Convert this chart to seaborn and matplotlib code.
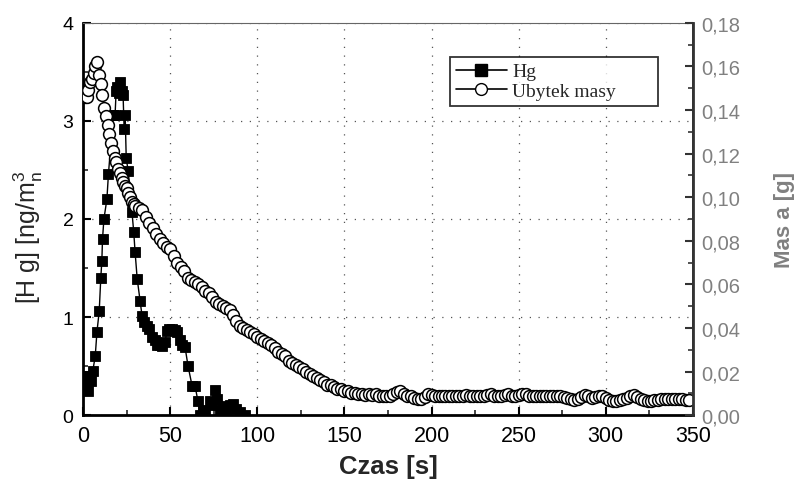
import matplotlib
matplotlib.use("Agg")
import matplotlib.pyplot as plt
import seaborn as sns
import pandas as pd
from matplotlib.ticker import MultipleLocator, FuncFormatter
from matplotlib.lines import Line2D

# ---------------- data ----------------
hg_time = [0.5, 1.5, 2.5, 3.5, 4.5, 5.5, 6.9, 7.9, 9.2, 10.1, 10.7, 11.1, 11.9, 13.6, 14.5,
           17.2, 18.3, 18.9, 19.6, 20.6, 21.2, 22.0, 22.9, 23.5, 24.1, 24.7, 25.8,
           28.0, 29.0, 29.8, 31.0, 32.7, 33.8,
           35.0, 36.5, 38.0, 39.5, 41.0, 42.5, 44.0, 45.5, 47.0, 48.2,
           49.5, 51.0, 52.5, 54.0, 55.5, 56.8, 58.5,
           60.2, 62.5, 64.2, 65.9, 67.0, 68.5, 70.0,
           72.8, 74.0, 75.7, 76.8, 78.5, 80.3, 82.0, 84.0, 86.0, 88.0, 90.0, 92.9]
hg_conc = [0.40, 0.30, 0.25, 0.40, 0.35, 0.45, 0.60, 0.85, 1.06, 1.40, 1.57, 1.80, 2.00, 2.20, 2.46,
           3.06, 3.06, 3.30, 3.35, 3.28, 3.40, 3.30, 3.26, 2.92, 3.06, 2.62, 2.49,
           2.07, 1.87, 1.66, 1.39, 1.16, 1.01,
           0.95, 0.91, 0.88, 0.80, 0.77, 0.72, 0.72, 0.70, 0.75, 0.86,
           0.88, 0.88, 0.87, 0.85, 0.77, 0.72, 0.69,
           0.50, 0.30, 0.30, 0.14, 0.00, 0.05, 0.00,
           0.14, 0.10, 0.26, 0.16, 0.05, 0.09, 0.05, 0.10, 0.11, 0.06, 0.03, 0.00]

mass_time = list(range(1, 31)) + list(range(32, 349, 2))
mass_loss = [
    0.146, 0.146, 0.149, 0.153, 0.154, 0.157, 0.160, 0.162, 0.156, 0.152,
    0.147, 0.141, 0.137, 0.133, 0.129, 0.125, 0.121, 0.118, 0.116, 0.113,
    0.111, 0.109, 0.107, 0.105, 0.104, 0.102, 0.100, 0.098, 0.097, 0.096,
    # 32..348 step 2
    0.095, 0.094, 0.091, 0.088, 0.086, 0.083, 0.081, 0.079, 0.077, 0.076,
    0.073, 0.070, 0.068, 0.066, 0.063, 0.062, 0.061, 0.060, 0.059, 0.057,
    0.056, 0.054, 0.052, 0.051, 0.050, 0.049, 0.048, 0.046, 0.043, 0.041,
    0.040, 0.039, 0.038, 0.037, 0.036, 0.035, 0.034, 0.033, 0.032, 0.031,
    0.029, 0.028, 0.027, 0.025, 0.024, 0.023, 0.022, 0.021, 0.020, 0.019,
    0.018, 0.017, 0.016, 0.015, 0.014, 0.014, 0.013, 0.012, 0.012, 0.011,
    0.011, 0.010, 0.010, 0.0095, 0.0095, 0.0092, 0.0095, 0.0093, 0.0095, 0.0090,
    0.0088, 0.0086, 0.0088, 0.0095, 0.0105, 0.0110, 0.0098, 0.0088, 0.0086, 0.0078,
    0.0072, 0.0075, 0.0085, 0.0095, 0.0092, 0.0090, 0.0088, 0.0086, 0.0086, 0.0088,
    0.0086, 0.0088, 0.0086, 0.0090, 0.0092, 0.0090, 0.0088, 0.0086, 0.0088, 0.0090,
    0.0092, 0.0095, 0.0090, 0.0086, 0.0088, 0.0092, 0.0095, 0.0090, 0.0088, 0.0094,
    0.0098, 0.0095, 0.0090, 0.0088, 0.0086, 0.0088, 0.0090, 0.0090, 0.0088, 0.0088,
    0.0086, 0.0086, 0.0084, 0.0080, 0.0074, 0.0070, 0.0076, 0.0085, 0.0092, 0.0088,
    0.0080, 0.0085, 0.0090, 0.0088, 0.0080, 0.0070, 0.0064, 0.0066, 0.0070, 0.0075,
    0.0080, 0.0088, 0.0092, 0.0085, 0.0075, 0.0068, 0.0065, 0.0066, 0.0068, 0.0070,
    0.0072, 0.0074, 0.0076, 0.0075, 0.0072, 0.0074, 0.0072, 0.0070, 0.0068,
]

x_ticks = [0, 50, 100, 150, 200, 250, 300, 350]
y_left_ticks = [0, 1, 2, 3, 4]
y_right_ticks = [0.00, 0.02, 0.04, 0.06, 0.08, 0.10, 0.12, 0.14, 0.16, 0.18]

hg_df = pd.DataFrame({"Czas": hg_time, "Hg": hg_conc})
mass_df = pd.DataFrame({"Czas": mass_time, "Masa": mass_loss})

# ---------------- style ----------------
sns.set_theme(style="white")
plt.rcParams["font.family"] = ["Liberation Sans", "DejaVu Sans"]
plt.rcParams["mathtext.fontset"] = "custom"
plt.rcParams["mathtext.rm"] = "Liberation Sans"
plt.rcParams["mathtext.it"] = "Liberation Sans"

fig = plt.figure(figsize=(8, 4.85), dpi=100)
ax = fig.add_axes([0.104, 0.142, 0.762, 0.809])
ax2 = ax.twinx()

sns.lineplot(data=hg_df, x="Czas", y="Hg", ax=ax, estimator=None, sort=True,
             color="black", lw=1.0, marker="s", markersize=7.5,
             markerfacecolor="black", markeredgecolor="black", markeredgewidth=0.6)
sns.lineplot(data=mass_df, x="Czas", y="Masa", ax=ax2, estimator=None, sort=True,
             color="black", lw=1.0, marker="o", markersize=8.5,
             markerfacecolor="white", markeredgecolor="black", markeredgewidth=1.1)

ax.set_xlim(0, 350)
ax.set_ylim(0, 4)
ax2.set_ylim(0, 0.18)
ax.set_xticks(x_ticks)
ax.set_yticks(y_left_ticks)
ax2.set_yticks(y_right_ticks)
ax.xaxis.set_minor_locator(MultipleLocator(25))
ax.yaxis.set_minor_locator(MultipleLocator(0.5))
ax2.yaxis.set_minor_locator(MultipleLocator(0.01))
ax2.yaxis.set_major_formatter(FuncFormatter(lambda v, p: f"{v:.2f}".replace(".", ",")))

# grid
ax.grid(True, which="major", color="#555555", linestyle=(0, (1, 6)), lw=0.9)
ax2.grid(False)

# ticks
ax.tick_params(axis="x", which="major", direction="in", length=6, width=1.5,
               labelsize=15.5, colors="black", pad=7)
ax.tick_params(axis="y", which="major", direction="in", length=6, width=1.5,
               labelsize=14, colors="black", pad=7)
ax.tick_params(axis="both", which="minor", direction="in", length=3.5, width=1.2)
ax.tick_params(axis="x", bottom=True, top=False, which="both")
ax.tick_params(axis="y", left=True, right=False, which="both")
ax2.tick_params(axis="y", which="major", direction="in", length=6, width=1.5,
                labelsize=14.5, color="#333333", labelcolor="#808080", pad=6)
ax2.tick_params(axis="y", which="minor", direction="in", length=3.5, width=1.2, color="#333333")

# spines
for s in ["left", "bottom"]:
    ax.spines[s].set_color("black")
    ax.spines[s].set_linewidth(2.0)
ax.spines["top"].set_color("#666666")
ax.spines["top"].set_linewidth(0.8)
ax2.spines["right"].set_color("#333333")
ax2.spines["right"].set_linewidth(2.0)
ax2.spines["top"].set_visible(False)
ax2.spines["left"].set_visible(False)
ax2.spines["bottom"].set_visible(False)

ax.set_xlabel("Czas [s]", fontsize=18.5, fontweight="bold")
ax.xaxis.set_label_coords(0.5, -0.100)
ax.set_ylabel(r"[H g] [ng/m$_n^3$", fontsize=18)
ax.yaxis.set_label_coords(-0.062, 0.456)
ax2.set_ylabel("Mas a [g]", fontsize=16, fontweight="bold", color="#808080")
ax2.yaxis.set_label_coords(1.133, 0.5)

handles = [
    Line2D([0], [0], color="black", lw=1.2, marker="s", markersize=8,
           markerfacecolor="black", markeredgecolor="black"),
    Line2D([0], [0], color="black", lw=1.2, marker="o", markersize=8.5,
           markerfacecolor="white", markeredgecolor="black"),
]
leg = ax2.legend(handles, ["Hg", "Ubytek masy"], loc="upper left",
                 bbox_to_anchor=(0.602, 0.78, 0.341, 0.133), mode="expand",
                 frameon=True, fancybox=False,
                 prop={"family": "Liberation Serif", "size": 14},
                 handlelength=2.6, handletextpad=0.3, borderpad=0.3,
                 labelspacing=0.1, borderaxespad=0)
leg.get_frame().set_edgecolor("black")
leg.get_frame().set_linewidth(1.3)

fig.savefig("out.png", dpi=100)
